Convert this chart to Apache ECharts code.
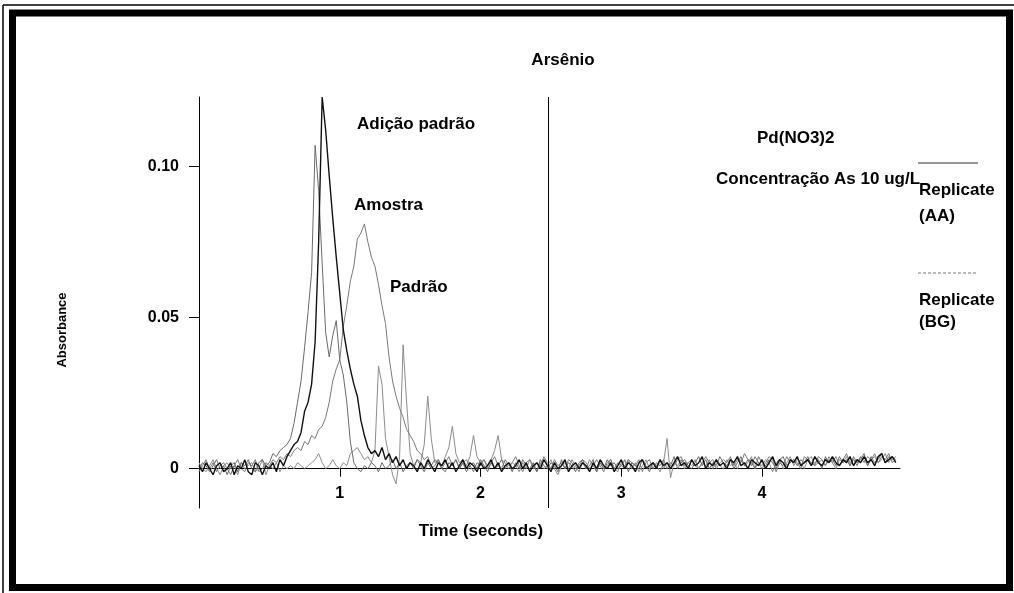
<!DOCTYPE html>
<html>
<head>
<meta charset="utf-8">
<title>Arsênio</title>
<script src="https://cdn.jsdelivr.net/npm/echarts@6/dist/echarts.min.js"></script>
<style>
  html, body { margin: 0; padding: 0; background: #fff; }
  #chart { width: 1014px; height: 593px; }
</style>
</head>
<body>
<div id="chart"></div>
<script>
// Absorbance traces sampled every 0.025 s from t = 0 s
const SAMPLE_STEP = 0.025;

// Adição padrão (AA) – black trace
const adicao = [
  0.001, -0.001, 0.002, 0.000, -0.002, 0.001, 0.002, -0.001, 0.000, 0.002,
  -0.002, 0.001, 0.000, 0.003, -0.001, -0.002, 0.002, 0.001, -0.002, 0.001,
  0.000, 0.002, -0.001, 0.003, 0.001, 0.004, 0.006, 0.008, 0.009, 0.012,
  0.019, 0.022, 0.028, 0.042, 0.075, 0.123, 0.112, 0.097, 0.083, 0.070,
  0.058, 0.046, 0.039, 0.033, 0.028, 0.024, 0.016, 0.011, 0.007, 0.005,
  0.006, 0.004, 0.007, 0.003, 0.005, 0.002, 0.004, 0.001, 0.003, 0.000,
  0.002, 0.001, -0.001, 0.002, 0.000, 0.003, 0.001, -0.001, 0.002, 0.001,
  0.003, 0.000, 0.002, -0.001, 0.001, 0.003, 0.000, 0.002, 0.001, -0.001,
  0.002, 0.000, 0.001, 0.003, 0.000, 0.002, -0.001, 0.001, 0.002, 0.000,
  0.001, 0.003, 0.000, 0.002, -0.001, 0.001, 0.002, 0.000, 0.003, 0.001,
  -0.001, 0.002, 0.000, 0.001, 0.003, -0.001, 0.001, 0.002, 0.000, 0.002,
  0.001, -0.001, 0.002, 0.000, 0.003, 0.001, 0.000, 0.002, -0.001, 0.001,
  0.003, 0.000, 0.002, 0.001, -0.001, 0.002, 0.003, 0.000, 0.001, 0.002,
  0.000, 0.003, 0.001, 0.002, 0.000, 0.002, 0.004, 0.001, 0.002, 0.000,
  0.003, 0.001, 0.002, 0.004, 0.000, 0.002, 0.001, 0.003, 0.001, 0.002,
  0.000, 0.003, 0.002, 0.004, 0.001, 0.002, 0.000, 0.003, 0.002, 0.001,
  0.003, 0.000, 0.002, 0.004, 0.001, 0.003, 0.002, 0.000, 0.003, 0.002,
  0.004, 0.001, 0.002, 0.003, 0.001, 0.004, 0.002, 0.001, 0.003, 0.002,
  0.004, 0.002, 0.001, 0.003, 0.002, 0.004, 0.001, 0.003, 0.002, 0.004,
  0.002, 0.003, 0.001, 0.004, 0.005, 0.002, 0.003, 0.004, 0.002
];

// Padrão (AA) – sharp grey peak
const padrao = [
  0.000, 0.002, 0.001, -0.001, 0.001, 0.003, 0.000, 0.001, -0.002, 0.001,
  0.002, -0.001, 0.002, 0.001, 0.003, 0.000, -0.001, 0.002, 0.003, 0.001,
  0.002, 0.005, 0.004, 0.006, 0.007, 0.008, 0.010, 0.015, 0.022, 0.029,
  0.040, 0.052, 0.065, 0.107, 0.092, 0.068, 0.045, 0.037, 0.044, 0.049,
  0.036, 0.031, 0.022, 0.009, 0.002, 0.000, -0.001, 0.001, 0.000, 0.002,
  0.001, -0.001, 0.002, 0.000, 0.001, 0.003, 0.000, 0.002, -0.001, 0.001,
  0.002, 0.000, 0.003, 0.001, -0.001, 0.002, 0.000, 0.001, 0.003, 0.000,
  -0.001, 0.002, 0.001, 0.003, 0.000, 0.002, -0.001, 0.001, 0.002, 0.000,
  0.003, 0.001, -0.001, 0.002, 0.000, 0.001, 0.003, 0.000, 0.002, -0.001,
  0.002, 0.000, 0.003, 0.001, 0.000, 0.002, -0.001, 0.003, 0.001, 0.000,
  0.002, 0.001, -0.001, 0.003, 0.000, 0.002, 0.001, -0.001, 0.002, 0.003,
  0.000, 0.001, 0.003, -0.001, 0.002, 0.000, 0.003, 0.001, 0.002, 0.000,
  0.001, 0.003, -0.001, 0.002, 0.001, 0.000, 0.003, 0.001, -0.001, 0.002,
  0.001, 0.003, 0.000, 0.002, 0.001, 0.004, 0.000, 0.002, 0.003, 0.001,
  0.000, 0.002, 0.004, 0.001, 0.003, 0.000, 0.002, 0.001, 0.004, 0.002,
  0.001, 0.003, 0.000, 0.002, 0.004, 0.001, 0.003, 0.002, 0.000, 0.004,
  0.002, 0.001, 0.003, 0.002, 0.000, 0.003, 0.004, 0.001, 0.002, 0.003,
  0.001, 0.003, 0.002, 0.004, 0.001, 0.002, 0.003, 0.000, 0.004, 0.002,
  0.003, 0.001, 0.004, 0.002, 0.003, 0.001, 0.004, 0.002, 0.003, 0.005,
  0.001, 0.004, 0.002, 0.003, 0.005, 0.002, 0.004, 0.003, 0.004
];

// Amostra (AA) – broad grey peak
const amostra = [
  -0.001, 0.001, 0.003, 0.000, 0.002, -0.001, 0.001, 0.002, 0.000, -0.002,
  0.001, 0.003, 0.000, -0.001, 0.002, 0.001, 0.003, -0.001, 0.000, 0.002,
  0.001, 0.003, 0.002, 0.004, 0.003, 0.005, 0.004, 0.006, 0.007, 0.006,
  0.009, 0.008, 0.011, 0.010, 0.013, 0.014, 0.017, 0.022, 0.029, 0.033,
  0.036, 0.047, 0.054, 0.062, 0.067, 0.076, 0.078, 0.081, 0.075, 0.070,
  0.067, 0.061, 0.054, 0.048, 0.037, 0.029, 0.024, 0.020, 0.017, 0.013,
  0.011, 0.009, 0.006, 0.005, 0.003, 0.004, 0.001, 0.003, 0.002, 0.000,
  0.002, 0.004, 0.001, 0.003, 0.000, 0.002, 0.003, 0.001, -0.001, 0.002,
  0.001, 0.003, 0.000, 0.002, 0.004, 0.001, 0.000, 0.003, 0.001, 0.002,
  0.004, 0.001, -0.001, 0.002, 0.003, 0.000, 0.002, 0.001, 0.004, 0.002,
  0.000, 0.003, 0.001, 0.002, 0.000, 0.003, 0.002, 0.000, 0.001, 0.003,
  0.002, 0.000, 0.001, 0.003, 0.001, -0.001, 0.002, 0.003, 0.000, 0.002,
  0.001, 0.000, 0.003, 0.002, 0.001, 0.003, -0.001, 0.002, 0.003, 0.000,
  0.002, 0.001, 0.003, 0.000, 0.002, 0.001, 0.003, 0.004, 0.001, 0.002,
  0.003, 0.001, 0.000, 0.002, 0.004, 0.002, 0.003, 0.000, 0.002, 0.003,
  0.002, 0.004, 0.001, 0.003, 0.002, 0.005, 0.003, 0.001, 0.004, 0.002,
  0.000, 0.002, 0.004, 0.003, -0.001, 0.002, 0.001, 0.004, 0.002, 0.003,
  0.002, 0.000, 0.004, 0.003, 0.002, 0.001, 0.004, 0.003, 0.001, 0.003,
  0.002, 0.004, 0.001, 0.003, 0.005, 0.002, 0.003, 0.001, 0.004, 0.002,
  0.004, 0.003, 0.005, 0.002, 0.004, 0.003, 0.005, 0.002, 0.003
];

// Replicate (BG) – background trace with narrow spikes
const fundo = [
  0.002, 0.000, -0.001, 0.001, 0.003, 0.000, -0.002, 0.001, 0.002, 0.000,
  0.001, -0.002, 0.002, 0.000, 0.001, 0.002, -0.001, 0.000, 0.003, -0.002,
  0.001, 0.000, 0.002, -0.001, 0.001, 0.000, 0.001, 0.000, 0.002, 0.001,
  0.000, 0.001, 0.002, 0.003, 0.005, 0.002, 0.000, 0.001, 0.003, 0.001,
  0.000, 0.002, 0.001, 0.005, 0.006, 0.007, 0.005, 0.003, 0.004, 0.002,
  0.006, 0.034, 0.028, 0.010, 0.004, -0.002, -0.005, 0.004, 0.041, 0.022,
  0.005, 0.001, 0.003, 0.002, 0.008, 0.024, 0.010, 0.002, 0.003, 0.001,
  0.004, 0.007, 0.014, 0.005, 0.002, 0.003, 0.001, 0.004, 0.011, 0.004,
  0.002, 0.003, 0.001, 0.003, 0.006, 0.011, 0.003, 0.002, 0.000, 0.002,
  0.001, -0.001, 0.002, 0.000, 0.003, 0.001, -0.001, 0.002, 0.000, 0.001,
  0.003, 0.000, -0.002, 0.001, 0.002, 0.000, 0.003, 0.001, -0.001, 0.002,
  0.000, 0.003, 0.001, -0.001, 0.002, 0.000, 0.001, 0.003, 0.000, -0.001,
  0.002, 0.001, 0.003, 0.000, 0.002, -0.001, 0.001, 0.003, 0.000, 0.002,
  0.001, -0.001, 0.002, 0.010, -0.003, 0.002, 0.001, 0.003, 0.000, 0.002,
  0.001, 0.003, 0.000, 0.002, 0.001, 0.003, 0.000, 0.002, 0.001, 0.000,
  0.003, 0.001, 0.002, 0.000, 0.003, 0.001, 0.002, 0.004, 0.000, 0.002,
  0.001, 0.003, 0.002, -0.001, 0.002, 0.003, 0.000, 0.002, 0.004, 0.001,
  0.003, 0.002, 0.000, 0.003, 0.004, 0.001, 0.002, 0.003, 0.001, 0.004,
  0.002, 0.000, 0.003, 0.002, 0.004, 0.001, 0.003, 0.002, 0.004, 0.003,
  0.001, 0.003, 0.004, 0.002, 0.003, 0.005, 0.002, 0.004, 0.003
];

// Axis ticks and the time where the second panel starts
const xTicks = [1, 2, 3, 4];
const yTicks = [0, 0.05, 0.10];
const panelDivider = 2.48;

const FONT = '"Liberation Sans", Arial, Helvetica, sans-serif';

function pairs(values) {
  return values.map((v, i) => [+(i * SAMPLE_STEP).toFixed(3), v]);
}

function trace(name, values, color, width, z) {
  return {
    name: name,
    type: 'line',
    data: pairs(values),
    showSymbol: false,
    symbol: 'none',
    z: z,
    lineStyle: { color: color, width: width },
    emphasis: { disabled: true }
  };
}

function label(text, x, y, size, align) {
  return {
    type: 'text',
    x: x, y: y,
    style: {
      text: text,
      fill: '#000',
      font: 'bold ' + size + 'px ' + FONT,
      textAlign: align || 'left',
      textVerticalAlign: 'middle'
    }
  };
}

const chart = echarts.init(document.getElementById('chart'), null, { renderer: 'canvas' });

const series = [
  trace('Replicate (BG)', fundo, '#8c8c8c', 1, 2),
  trace('Amostra', amostra, '#7a7a7a', 1, 3),
  trace('Padrão', padrao, '#6a6a6a', 1, 4),
  trace('Adição padrão', adicao, '#111111', 1.4, 5)
];
series[3].markLine = {
  silent: true,
  symbol: 'none',
  label: { show: false },
  lineStyle: { color: '#000', width: 1, type: 'solid' },
  data: [{ xAxis: panelDivider }]
};

chart.setOption({
  animation: false,
  backgroundColor: '#fff',
  grid: { left: 199, right: 114, top: 97, bottom: 85, containLabel: false },
  xAxis: {
    type: 'value',
    min: 0,
    max: 4.98,
    axisLine: { show: true, onZero: true, lineStyle: { color: '#000', width: 1 } },
    axisTick: { show: true, customValues: xTicks, length: 8, lineStyle: { color: '#000' } },
    axisLabel: {
      show: true,
      customValues: xTicks,
      margin: -22,
      color: '#000',
      fontFamily: FONT,
      fontWeight: 'bold',
      fontSize: 16
    },
    splitLine: { show: false }
  },
  yAxis: {
    type: 'value',
    min: -0.013,
    max: 0.123,
    axisLine: { show: true, lineStyle: { color: '#000', width: 1 } },
    axisTick: { show: true, customValues: yTicks, length: 10, lineStyle: { color: '#000' } },
    axisLabel: {
      show: true,
      customValues: yTicks,
      margin: 20,
      color: '#000',
      fontFamily: FONT,
      fontWeight: 'bold',
      fontSize: 16,
      formatter: function (v) { return v === 0 ? '0' : v.toFixed(2); }
    },
    splitLine: { show: false }
  },
  series: series,
  graphic: [
    // page frame
    { type: 'line', shape: { x1: 3, y1: 5, x2: 3, y2: 593 }, style: { stroke: '#000', lineWidth: 1.5 } },
    { type: 'line', shape: { x1: 3, y1: 5, x2: 1014, y2: 5 }, style: { stroke: '#000', lineWidth: 1.5 } },
    { type: 'rect', shape: { x: 12.5, y: 13, width: 997, height: 574.5 },
      style: { fill: 'none', stroke: '#000', lineWidth: 7 } },

    // titles and annotations
    label('Arsênio', 563, 60, 17, 'center'),
    label('Adição padrão', 357, 124, 17),
    label('Amostra', 354, 205, 17),
    label('Padrão', 390, 287, 17),
    label('Pd(NO3)2', 757, 138, 17),
    label('Concentração As 10 ug/L', 716, 179, 17),
    label('Time (seconds)', 481, 531, 17, 'center'),
    {
      type: 'text',
      x: 62, y: 330,
      rotation: Math.PI / 2,
      style: {
        text: 'Absorbance',
        fill: '#000',
        font: 'bold 13px ' + FONT,
        textAlign: 'center',
        textVerticalAlign: 'middle'
      }
    },

    // legend
    { type: 'line', shape: { x1: 918, y1: 163, x2: 978, y2: 163 }, style: { stroke: '#333', lineWidth: 1 } },
    label('Replicate', 919, 190, 17),
    label('(AA)', 919, 216, 17),
    { type: 'line', shape: { x1: 918, y1: 273, x2: 978, y2: 273 },
      style: { stroke: '#777', lineWidth: 1, lineDash: [3, 2] } },
    label('Replicate', 919, 300, 17),
    label('(BG)', 919, 322, 17)
  ]
});
</script>
</body>
</html>
